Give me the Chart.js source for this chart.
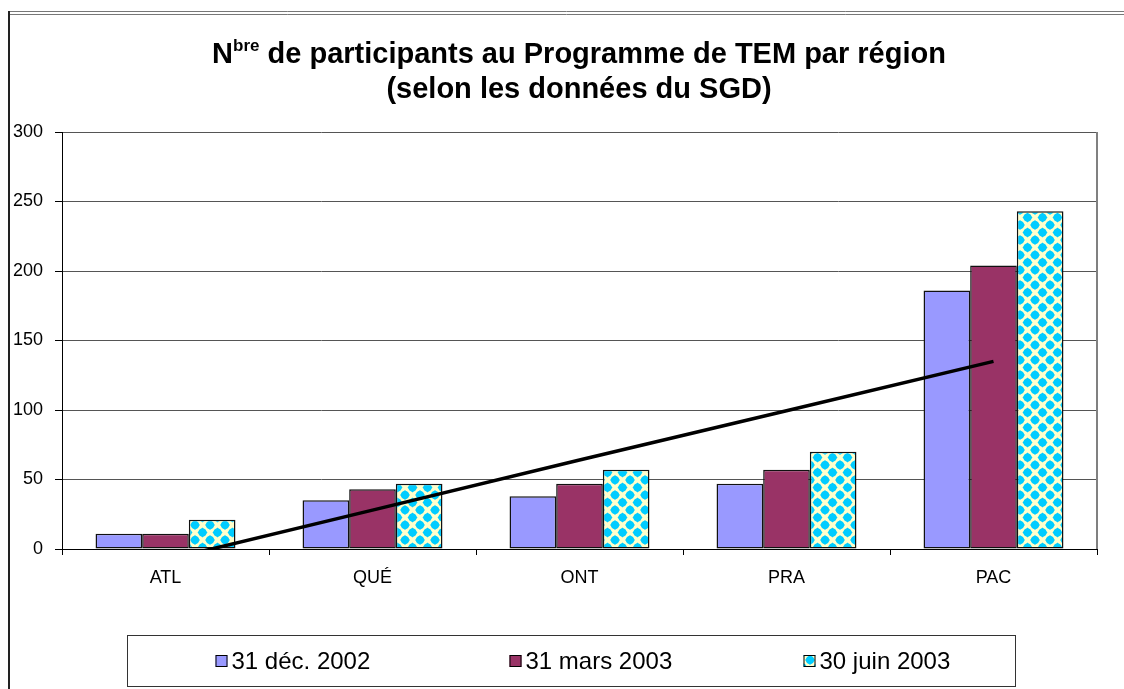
<!DOCTYPE html>
<html>
<head>
<meta charset="utf-8">
<script src="https://cdn.jsdelivr.net/npm/chart.js@4"></script>
<style>
  html, body { margin: 0; padding: 0; background: #fff; }
  #wrap { position: relative; width: 1124px; height: 689px; }
  #title {
    position: absolute; left: 79px; top: 36px; width: 1000px;
    text-align: center; font: bold 29px "Liberation Sans", Arial, sans-serif;
    line-height: 35px; color: #000; white-space: nowrap;
  }
  #title sup { font-size: 17px; line-height: 0; vertical-align: 12px; }
</style>
</head>
<body>
<div id="wrap">
  <canvas id="chart" width="1124" height="689"></canvas>
  <div id="title">N<sup>bre</sup> de participants au Programme de TEM par région<br>(selon les données du SGD)</div>
</div>
<script>
const regions = ["ATL", "QUÉ", "ONT", "PRA", "PAC"];
const seriesNames = ["31 déc. 2002", "31 mars 2003", "30 juin 2003"];
const dec2002 = [11, 35, 38, 47, 186];
const mar2003 = [11, 43, 47, 57, 204];
const jun2003 = [21, 47, 57, 70, 243];
// linear trend of the first series, as drawn
const trend = [-8, 28, 64, 99.5, 135];
const yTicks = [0, 50, 100, 150, 200, 250, 300];

const FONT = "'Liberation Sans', Arial, sans-serif";

function makePattern() {
  const c = document.createElement("canvas");
  c.width = 15;
  c.height = 15;
  const g = c.getContext("2d");
  g.fillStyle = "#FFFFCC";
  g.fillRect(0, 0, 15, 15);
  g.fillStyle = "#00CCFF";
  const r = 5.0;
  [[7.5, 7.5], [0, 0], [15, 0], [0, 15], [15, 15]].forEach(([cx, cy]) => {
    g.beginPath();
    g.moveTo(cx, cy - r);
    g.lineTo(cx + r, cy);
    g.lineTo(cx, cy + r);
    g.lineTo(cx - r, cy);
    g.closePath();
    g.fill();
    g.beginPath();
    g.arc(cx, cy, 4.0, 0, Math.PI * 2);
    g.fill();
  });
  return g.createPattern(c, "repeat");
}

const ctx = document.getElementById("chart");
const junFill = makePattern();

const framePlugin = {
  id: "frame",
  beforeDraw(chart) {
    const g = chart.ctx;
    g.save();
    g.fillStyle = "#fff";
    g.fillRect(0, 0, chart.width, chart.height);
    g.strokeStyle = "#777";
    g.lineWidth = 1;
    g.beginPath();
    g.moveTo(9, 11.5); g.lineTo(chart.width, 11.5);
    g.moveTo(9, 14.5); g.lineTo(chart.width, 14.5);
    g.stroke();
    g.strokeStyle = "#222";
    g.lineWidth = 2;
    g.beginPath();
    g.moveTo(9, 11); g.lineTo(9, chart.height);
    g.stroke();
    g.restore();
  },
  beforeDatasetsDraw(chart) {
    const a = chart.chartArea;
    const g = chart.ctx;
    g.save();
    g.strokeStyle = "#808080";
    g.lineWidth = 2;
    g.beginPath();
    g.moveTo(a.right, a.top);
    g.lineTo(a.right, a.bottom);
    g.stroke();
    g.restore();
  },
  afterDraw(chart) {
    const a = chart.chartArea;
    const g = chart.ctx;
    const box = { left: a.left + 65.5, right: a.right - 81.5, top: 635.5, bottom: 686.5 };
    g.save();
    g.strokeStyle = "#333";
    g.lineWidth = 1;
    g.strokeRect(box.left, box.top, box.right - box.left, box.bottom - box.top);
    g.font = "24px " + FONT;
    g.textBaseline = "middle";
    const midY = (box.top + box.bottom) / 2;
    chart.data.datasets.forEach((ds, i) => {
      if (ds.type === "line") return;
      const x = box.left + 88 + i * 294;
      g.fillStyle = ds.backgroundColor;
      g.fillRect(x, midY - 6, 12, 12);
      g.strokeStyle = "#000";
      g.strokeRect(x + 0.5, midY - 5.5, 11, 11);
      g.fillStyle = "#000";
      g.fillText(ds.label, x + 16, midY + 1);
    });
    g.restore();
  },
};

const chart = new Chart(ctx, {
  type: "bar",
  data: {
    labels: regions,
    datasets: [
      { label: seriesNames[0], data: dec2002, backgroundColor: "#9999FF", borderColor: "#111", borderWidth: 1.5, borderSkipped: false, order: 1 },
      { label: seriesNames[1], data: mar2003, backgroundColor: "#993366", borderColor: "#111", borderWidth: 1.5, borderSkipped: false, order: 1 },
      { label: seriesNames[2], data: jun2003, backgroundColor: junFill, borderColor: "#111", borderWidth: 1.5, borderSkipped: false, order: 1 },
      { type: "line", label: "trend", data: trend, borderColor: "#000", borderWidth: 3.5, pointRadius: 0, tension: 0, fill: false, clip: 0, order: 0 },
    ],
  },
  options: {
    responsive: false,
    animation: false,
    layout: { padding: { top: 132, left: 0, right: 27, bottom: 100 } },
    datasets: { bar: { categoryPercentage: 0.676, barPercentage: 1.0 } },
    plugins: {
      legend: { display: false },
      title: { display: false },
      tooltip: { enabled: false },
    },
    scales: {
      x: {
        grid: { display: true, drawOnChartArea: false, drawTicks: true, tickLength: 6, tickColor: "#000", offset: true },
        border: { display: true, color: "#000", width: 1 },
        ticks: { color: "#000", font: { family: FONT, size: 18 }, padding: 12, maxRotation: 0 },
        afterFit(scale) { scale.height = 40; },
      },
      y: {
        min: 0,
        max: 300,
        afterBuildTicks(scale) { scale.ticks = yTicks.map((v) => ({ value: v })); },
        grid: { color: "#555", lineWidth: 1, tickLength: 7, tickColor: "#000" },
        border: { display: true, color: "#000", width: 1 },
        ticks: { color: "#000", font: { family: FONT, size: 18 }, padding: 12 },
        afterFit(scale) { scale.width = 62; },
      },
    },
  },
  plugins: [framePlugin],
});
</script>
</body>
</html>
